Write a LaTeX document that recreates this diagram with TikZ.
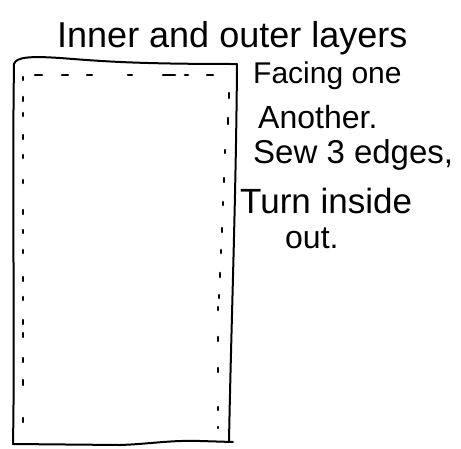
\documentclass[tikz,border=0pt]{standalone}
\usepackage{fontspec}
\setmainfont{Liberation Sans}
\begin{document}
\begin{tikzpicture}[x=1pt,y=-1pt,
  outline/.style={line width=2pt, line cap=round, line join=round},
  stitch/.style={line width=2.6pt, line cap=round},
  lbl/.style={anchor=base west, inner sep=0pt, font=\fontsize{30}{30}\selectfont}]
\useasboundingbox (0,0) rectangle (461,448);
% title
\node[anchor=base west, inner sep=0pt, font=\fontsize{36}{36}\selectfont] (title) at (57,47) {Inner and outer layers};
% outline of the fabric
\coordinate (tl) at (14,64);
\coordinate (tr) at (237,64);
\coordinate (br) at (229,442);
\coordinate (bl) at (13,444);
\draw[outline] (tl) .. controls (16,57) and (30,56) .. (60,58)
  .. controls (100,61) and (130,64) .. (tr);
\draw[outline] (tr) .. controls (236,200) and (231,330) .. (br);
\draw[outline] (tl) .. controls (12,200) and (15,330) .. (bl);
\draw[outline] (bl) -- (120,445) .. controls (150,444) and (170,440) .. (200,441) -- (233,442);
% top stitches
\foreach \a/\b in {35/42, 62/68, 87/92, 128/132, 163/175, 185/188, 207/213}
  \draw[stitch] (\a,75) -- (\b,75);
% left stitches
\foreach \y/\l in {77/3, 97/4, 113/3, 135/4, 155/3, 180/3, 210/4, 230/3, 250/3, 277/4, 297/3, 320/4, 333/4, 358/4, 380/5, 418/4}
  \draw[stitch] (23,\y) -- (23,\y+\l);
% right stitches
\foreach \x/\y/\l in {229/93/5, 228/118/6, 225/150/3, 224/178/4, 223/202/3, 222/228/4, 221/250/3, 220/273/4, 219/295/3, 218/307/3, 218/337/4, 218/368/4, 218/407/3, 218/427/1}
  \draw[stitch] (\x,\y) -- (\x,\y+\l);
% labels
\node[lbl, font=\fontsize{30}{30}\selectfont] (l1) at (253,83) {Facing one};
\node[lbl, font=\fontsize{32}{32}\selectfont] (l2) at (258,128) {Another.};
\node[lbl, font=\fontsize{33}{33}\selectfont] (l3) at (253,163) {Sew 3 edges,};
\node[lbl, font=\fontsize{35}{35}\selectfont] (l4) at (240,213) {Turn inside};
\node[lbl, font=\fontsize{32}{32}\selectfont] (l5) at (285,248) {out.};
\end{tikzpicture}
\end{document}
